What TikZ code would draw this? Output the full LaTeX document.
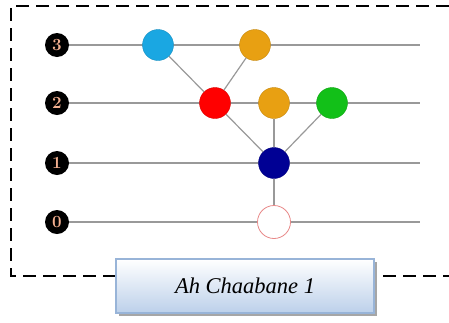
\documentclass[tikz,border=0pt]{standalone}
\usepackage{fontspec}
\newfontfamily\capfont{Liberation Serif}
\usetikzlibrary{positioning,shadows}
\definecolor{numpeach}{HTML}{F4B090}
\definecolor{linegray}{HTML}{999999}
\definecolor{skyblue}{HTML}{1AA7E2}
\definecolor{amber}{HTML}{E8A012}
\definecolor{brightred}{HTML}{FF0000}
\definecolor{leafgreen}{HTML}{12C018}
\definecolor{deepnavy}{HTML}{000094}
\definecolor{pinkedge}{HTML}{E88888}
\definecolor{boxedge}{HTML}{98B4D8}
\definecolor{boxfill}{HTML}{BCD0EA}

\begin{document}
\begin{tikzpicture}[x=1pt,y=-1pt,
  level/.style={circle,fill=black,minimum size=24pt,inner sep=0pt,text=numpeach,
    font=\bfseries\fontsize{17}{17}\selectfont},
  ball/.style={circle,minimum size=31pt,inner sep=0pt,draw=#1!85!black,fill=#1},
  link/.style={draw=linegray,line width=1.2pt}]
\useasboundingbox (0,0) rectangle (449,322);

% frame, open on the right
\draw[line width=2.8pt,dash pattern=on 13pt off 7pt] (449,6)--(11,6)--(11,276)--(449,276);

% levels
\node[level] (l3) at (57,45) {3};
\node[level] (l2) at (57,103) {2};
\node[level] (l1) at (57,163) {1};
\node[level] (l0) at (57,222) {0};
\coordinate (e3) at (420,45);
\coordinate (e2) at (420,103);
\coordinate (e1) at (420,163);
\coordinate (e0) at (420,222);
\draw[link] (l3)--(e3);
\draw[link] (l2)--(e2);
\draw[link] (l1)--(e1);
\draw[link] (l0)--(e0);

% tree
\node[ball=skyblue] (blue) at (158,45) {};
\node[ball=amber] (ambtop) at (255,45) {};
\node[ball=brightred] (red) at (215,103) {};
\node[ball=amber] (ambmid) at (274,103) {};
\node[ball=leafgreen] (green) at (332,103) {};
\node[ball=deepnavy] (navy) at (274,163) {};
\node[circle,minimum size=33pt,inner sep=0pt,draw=pinkedge,line width=0.8pt,fill=white] (root) at (274,222) {};

\draw[link] (blue)--(red);
\draw[link] (ambtop)--(red);
\draw[link] (red)--(navy);
\draw[link] (ambmid)--(navy);
\draw[link] (green)--(navy);
\draw[link] (navy)--(root);

% caption
\node[draw=boxedge,line width=1.5pt,top color=white,bottom color=boxfill,
  minimum width=258pt,minimum height=54pt,
  drop shadow={shadow xshift=3pt,shadow yshift=-3pt,fill=gray!70,opacity=1},
  font=\capfont\itshape\fontsize{22.5}{26}\selectfont] (cap) at (245,286) {Ah Chaabane 1};
\end{tikzpicture}
\end{document}
